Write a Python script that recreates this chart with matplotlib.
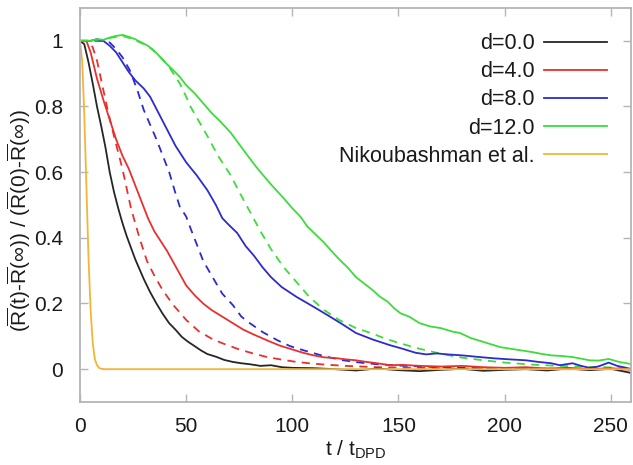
import matplotlib
matplotlib.use("Agg")
import matplotlib.pyplot as plt

plt.rcParams["font.family"] = ["Liberation Sans", "DejaVu Sans"]
plt.rcParams["mathtext.fontset"] = "custom"
plt.rcParams["mathtext.rm"] = "Liberation Sans"
plt.rcParams["mathtext.it"] = "Liberation Sans:italic"
plt.rcParams["mathtext.bf"] = "Liberation Sans:bold"

# ---- relaxation curves: simulation (solid) and model (dashed) ----
t_d0 = [0, 2, 4, 6, 8, 10, 12, 14, 16, 18, 20, 22, 24, 26, 28, 30, 33, 36, 39, 42,
        45, 48, 51, 54, 57, 60, 64, 68, 72, 76, 80, 85, 90, 95, 100, 110, 120, 130,
        140, 150, 160, 170, 180, 190, 200, 210, 220, 230, 240, 250, 260]
v_d0 = [1.0, 0.99, 0.935, 0.87, 0.80, 0.74, 0.675, 0.60, 0.54, 0.49, 0.445, 0.405,
        0.37, 0.335, 0.305, 0.275, 0.235, 0.20, 0.168, 0.14, 0.12, 0.098, 0.083, 0.07,
        0.057, 0.046, 0.038, 0.028, 0.022, 0.018, 0.015, 0.010, 0.012, 0.006, 0.004,
        0.003, 0.0, -0.004, 0.002, -0.003, -0.006, -0.002, 0.001, -0.005, -0.002, 0.0,
        -0.004, 0.002, -0.003, 0.001, -0.012]

t_d4 = [0, 3, 5, 8, 11, 14, 17, 20, 23, 26, 29, 32, 35, 38, 41, 44, 47, 50, 54, 58,
        62, 67, 72, 77, 82, 88, 94, 100, 105, 110, 115, 120, 125, 130, 135, 140, 146,
        152, 160, 170, 180, 190, 200, 210, 220, 230, 240, 250, 260]
v_d4 = [1.0, 1.0, 0.965, 0.885, 0.82, 0.76, 0.70, 0.65, 0.61, 0.56, 0.51, 0.46, 0.42,
        0.39, 0.36, 0.325, 0.29, 0.255, 0.225, 0.20, 0.18, 0.16, 0.14, 0.12, 0.105,
        0.088, 0.072, 0.06, 0.05, 0.042, 0.036, 0.034, 0.03, 0.027, 0.022, 0.018, 0.012,
        0.013, 0.01, 0.008, 0.01, 0.006, 0.004, 0.006, 0.002, 0.004, 0.0, 0.003, -0.002]

t_d8 = [0, 5, 8, 11, 14, 17, 20, 23, 26, 30, 33, 37, 41, 45, 50, 55, 60, 64, 67, 70,
        74, 78, 82, 86, 90, 95, 102, 110, 118, 124, 130, 138, 146, 152, 158, 163, 168,
        173, 180, 188, 195, 202, 210, 216, 222, 226, 232, 236, 240, 244, 249, 253, 260]
v_d8 = [1.0, 1.0, 1.005, 1.0, 0.985, 0.965, 0.935, 0.905, 0.88, 0.855, 0.83, 0.78,
        0.73, 0.68, 0.63, 0.59, 0.545, 0.50, 0.46, 0.44, 0.415, 0.375, 0.345, 0.31,
        0.28, 0.25, 0.22, 0.19, 0.159, 0.135, 0.11, 0.09, 0.073, 0.062, 0.05, 0.045,
        0.048, 0.045, 0.042, 0.037, 0.033, 0.03, 0.027, 0.022, 0.018, 0.012, 0.018,
        0.01, 0.004, 0.008, 0.02, 0.01, 0.0]

t_d12 = [0, 5, 8, 11, 14, 17, 20, 23, 26, 29, 32, 36, 40, 44, 47, 50, 54, 58, 62, 66,
         71, 75, 79, 83, 87, 91, 96, 100, 104, 107, 111, 115, 118, 122, 126, 130, 134,
         138, 141, 145, 148, 151, 155, 160, 165, 170, 175, 179, 184, 188, 193, 198, 203,
         208, 213, 217, 222, 227, 232, 236, 240, 244, 249, 254, 260]
v_d12 = [1.0, 1.0, 1.005, 1.003, 1.01, 1.015, 1.018, 1.012, 1.005, 0.995, 0.985, 0.963,
         0.935, 0.91, 0.89, 0.865, 0.84, 0.81, 0.78, 0.755, 0.72, 0.685, 0.65, 0.616,
         0.585, 0.555, 0.52, 0.49, 0.463, 0.435, 0.41, 0.385, 0.363, 0.335, 0.31, 0.28,
         0.26, 0.24, 0.222, 0.205, 0.185, 0.17, 0.16, 0.14, 0.13, 0.125, 0.115, 0.11,
         0.095, 0.087, 0.077, 0.067, 0.062, 0.057, 0.052, 0.047, 0.042, 0.04, 0.037,
         0.032, 0.027, 0.026, 0.031, 0.022, 0.015]

tm_d4 = [0, 4, 6, 8, 10, 13, 16, 20, 24, 28, 31.5, 35, 39, 44, 50, 56, 62, 67, 75, 82,
         88, 95, 102, 108, 115, 125, 140, 160, 180, 200, 230, 260]
vm_d4 = [1.0, 1.0, 0.98, 0.94, 0.88, 0.79, 0.71, 0.61, 0.49, 0.40, 0.33, 0.285, 0.24,
         0.195, 0.15, 0.115, 0.093, 0.079, 0.06, 0.047, 0.037, 0.029, 0.022, 0.018,
         0.014, 0.01, 0.006, 0.004, 0.002, 0.001, 0.0, 0.0]

tm_d8 = [0, 10, 14, 17, 20, 23.5, 27, 30, 33, 36, 39, 42, 45, 47, 50, 52, 55, 58, 62,
         67, 72, 76, 80, 86, 93, 99, 105, 112, 118, 124, 132, 140, 150, 165, 180, 200,
         230, 260]
vm_d8 = [1.0, 1.0, 0.995, 0.975, 0.95, 0.91, 0.85, 0.79, 0.745, 0.70, 0.65, 0.60,
         0.535, 0.495, 0.465, 0.43, 0.38, 0.33, 0.285, 0.23, 0.195, 0.16, 0.14, 0.113,
         0.088, 0.07, 0.058, 0.045, 0.035, 0.027, 0.02, 0.015, 0.011, 0.007, 0.004,
         0.002, 0.001, 0.0]

tm_d12 = [0, 5, 10, 15, 20, 25, 30, 34, 38, 42, 45, 47, 50, 52, 56, 60, 65, 71, 75, 80,
          85, 90, 96, 102, 108, 115, 122, 130, 137, 143, 150, 160, 170, 180, 190, 200,
          215, 230, 245, 260]
vm_d12 = [1.0, 1.0, 1.003, 1.01, 1.015, 1.005, 0.99, 0.975, 0.95, 0.92, 0.89, 0.87,
          0.83, 0.80, 0.755, 0.71, 0.65, 0.59, 0.54, 0.48, 0.42, 0.365, 0.31, 0.265,
          0.22, 0.18, 0.15, 0.125, 0.11, 0.095, 0.08, 0.062, 0.047, 0.035, 0.027, 0.02,
          0.013, 0.009, 0.006, 0.004]

t_nik = [0, 1, 2, 3, 4, 5, 6, 7, 8, 9, 10, 12, 15, 20, 30, 50, 100, 150, 200, 260]
v_nik = [1.0, 0.94, 0.78, 0.56, 0.34, 0.18, 0.08, 0.03, 0.012, 0.004, 0.001, 0.0,
         0.0, 0.0, 0.0, 0.0, 0.0, 0.0, 0.0, 0.0]

labels = ["d=0.0", "d=4.0", "d=8.0", "d=12.0", "Nikoubashman et al."]
colors = ["#262626", "#e8302e", "#2b2bd0", "#3cdc3c", "#f5b436"]

fig = plt.figure(figsize=(6.33, 4.65), dpi=100)
ax = fig.add_axes([80 / 633, 1 - 402 / 465, 551 / 633, 394 / 465])

lw = 1.3
dash = (4.5, 3.5)
ax.plot(tm_d4, vm_d4, color=colors[1], lw=lw, dashes=dash)
ax.plot(tm_d8, vm_d8, color=colors[2], lw=lw, dashes=dash)
ax.plot(tm_d12, vm_d12, color=colors[3], lw=lw, dashes=dash)

ax.plot(t_d0, v_d0, color=colors[0], lw=lw, label=labels[0])
ax.plot(t_d4, v_d4, color=colors[1], lw=lw, label=labels[1])
ax.plot(t_d8, v_d8, color=colors[2], lw=lw, label=labels[2])
ax.plot(t_d12, v_d12, color=colors[3], lw=lw, label=labels[3])
ax.plot(t_nik, v_nik, color=colors[4], lw=lw, label=labels[4])

ax.set_xlim(0, 259.5)
ax.set_ylim(-0.1, 1.1)

xt = [0, 50, 100, 150, 200, 250]
yt = [0, 0.2, 0.4, 0.6, 0.8, 1]
ax.set_xticks(xt)
ax.set_xticklabels([str(v) for v in xt])
ax.set_yticks(yt)
ax.set_yticklabels(["0", "0.2", "0.4", "0.6", "0.8", "1"])

frame_col = "#b4b4b4"
for s in ax.spines.values():
    s.set_color(frame_col)
    s.set_linewidth(1.3)
ax.tick_params(axis="both", direction="in", length=6, width=1.0, color=frame_col,
               top=True, right=True, labelsize=15, labelcolor="#1a1a1a")
ax.tick_params(axis="x", pad=11)
ax.tick_params(axis="y", pad=12)

ax.set_xlabel(r"t / t$_{\mathrm{DPD}}$", fontsize=15, color="#1a1a1a", labelpad=2)
ax.set_ylabel(r"$\mathdefault{(\overline{R}(t)\text{-}\overline{R}(\infty))\ /\ "
              r"(\overline{R}(0)\text{-}\overline{R}(\infty))}$",
              fontsize=15, color="#1a1a1a")
ax.yaxis.set_label_coords(-0.085, 0.46)

leg = ax.legend(loc="upper right", bbox_to_anchor=(0.956, 0.936), frameon=False,
                markerfirst=False, fontsize=15.5, handlelength=2.9, handletextpad=0.45,
                labelspacing=0.33, borderpad=0, borderaxespad=0)
for txt in leg.get_texts():
    txt.set_color("#1a1a1a")

fig.savefig("out.png", dpi=100)
